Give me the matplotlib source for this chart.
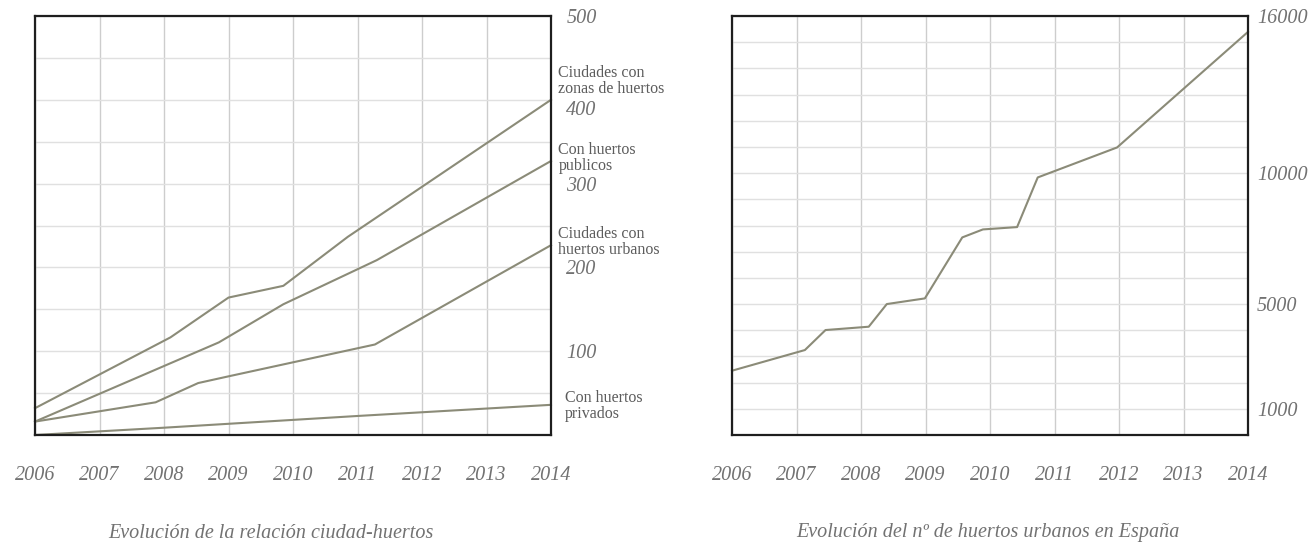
import numpy as np
import matplotlib
matplotlib.use("Agg")
import matplotlib.pyplot as plt
from matplotlib.transforms import ScaledTranslation

# ---- data ----
# left chart: relation city / urban gardens
zonas_years = [2006, 2008.1, 2009, 2009.85, 2010.85, 2014]
zonas_vals = [32, 116.5, 164, 178, 236.5, 400]

publicos_years = [2006, 2008.85, 2009.85, 2011.3, 2014]
publicos_vals = [16, 110.5, 156, 208.7, 327]

urbanos_years = [2006, 2007.87, 2008.53, 2009, 2011.27, 2014]
urbanos_vals = [16, 39, 62, 70, 108, 226.5]

privados_years = [2006, 2008, 2011, 2014]
privados_vals = [0, 8.7, 22.7, 36]

series_labels = ["Ciudades con\nzonas de huertos",
                 "Con huertos\npublicos",
                 "Ciudades con\nhuertos urbanos",
                 "Con huertos\nprivados"]

# right chart: number of urban gardens in Spain
huertos_years = [2006, 2007.13, 2007.45, 2008.12, 2008.4, 2008.99, 2009.57,
                 2009.89, 2010.42, 2010.74, 2011.97, 2014]
huertos_vals = [2455, 3244, 4008, 4135, 5000, 5216, 7545, 7850, 7939, 9835,
                10980, 15394]

years = list(range(2006, 2015))
left_yticks = [100, 200, 300, 400, 500]
right_yticks = [1000, 5000, 10000, 16000]

left_title = "Evolución de la relación ciudad-huertos"
right_title = "Evolución del nº de huertos urbanos en España"

# ---- style ----
line_col = "#8b8b78"
hgrid_col = "#e0e0e0"
vgrid_col = "#cdcdcd"
text_col = "#727272"
label_col = "#5c5c5c"
serif = "Liberation Serif"

W, H = 1310, 549
fig = plt.figure(figsize=(W / 100, H / 100), dpi=100)
fig.patch.set_facecolor("white")

ax1 = fig.add_axes([35 / W, 1 - 435 / H, 516 / W, 419 / H])
ax2 = fig.add_axes([732 / W, 1 - 435 / H, 516 / W, 419 / H])


def style_axes(ax, ymax, ystep, yticks, ypad):
    ax.set_xlim(2006, 2014)
    ax.set_ylim(0, ymax)
    ax.set_xticks(years)
    ax.set_xticklabels([str(y) for y in years])
    ax.set_yticks(np.arange(0, ymax + 1, ystep), minor=True)
    ax.set_yticks(yticks)
    ax.yaxis.tick_right()
    ax.grid(True, axis="y", which="both", color=hgrid_col, linewidth=1.0,
            zorder=0)
    ax.grid(True, axis="x", which="major", color=vgrid_col, linewidth=1.0,
            zorder=0)
    ax.tick_params(which="both", length=0)
    ax.tick_params(axis="x", pad=22)
    ax.tick_params(axis="y", pad=ypad)
    for lab in ax.get_xticklabels() + ax.get_yticklabels():
        lab.set_fontfamily(serif)
        lab.set_fontstyle("italic")
        lab.set_fontsize(14.5)
        lab.set_color(text_col)
    for sp in ax.spines.values():
        sp.set_color("#1e1e1e")
        sp.set_linewidth(1.6)
        sp.set_zorder(5)


style_axes(ax1, 500, 50, left_yticks, 11)
style_axes(ax2, 16000, 1000, right_yticks, 6.5)

# the "400" label sits a little lower in the reference
for lab in ax1.get_yticklabels():
    if lab.get_text() == "400":
        lab.set_transform(lab.get_transform() +
                          ScaledTranslation(0, -0.08, fig.dpi_scale_trans))

for xs, ys in [(zonas_years, zonas_vals), (publicos_years, publicos_vals),
               (urbanos_years, urbanos_vals), (privados_years, privados_vals)]:
    ax1.plot(xs, ys, color=line_col, linewidth=1.5, zorder=3, clip_on=False)

ax2.plot(huertos_years, huertos_vals, color=line_col, linewidth=1.5,
         zorder=3, clip_on=False)

# series names to the right of the left chart
label_y = [423, 330, 230, 34.6]
label_x = [1.0145, 1.0145, 1.0145, 1.027]
trans = ax1.get_yaxis_transform()
for name, lx, ly in zip(series_labels, label_x, label_y):
    ax1.text(lx, ly, name, transform=trans, ha="left", va="center",
             fontfamily=serif, fontsize=11.5, color=label_col,
             linespacing=1.0)

fig.text(271 / W, 1 - 533 / H, left_title, ha="center", va="center",
         fontfamily=serif, fontstyle="italic", fontsize=14.5, color=text_col)
fig.text(988 / W, 1 - 533 / H, right_title, ha="center", va="center",
         fontfamily=serif, fontstyle="italic", fontsize=14.5, color=text_col)

fig.savefig("out.png", dpi=100, facecolor="white")
